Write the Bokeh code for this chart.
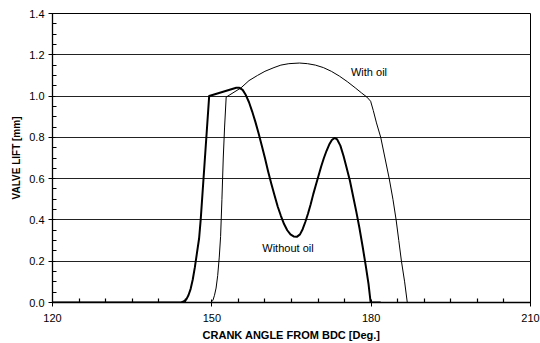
from bokeh.plotting import figure
from bokeh.models import FixedTicker, Range1d, Label, CustomJSTickFormatter
from bokeh.embed import file_html
from bokeh.resources import INLINE

# Crank angle [deg] and valve lift [mm] -- Without oil (thick curve)
angle_without_oil = [120, 144.2, 144.7, 145.2, 145.6, 146.0, 146.4, 146.8, 147.2, 147.6,
                     147.9, 148.3, 148.7, 149.1, 149.5, 154.6, 155.2, 155.8, 156.4, 157.0,
                     157.6, 158.2, 158.8, 159.4, 160.0, 160.6, 161.2, 161.8, 162.4, 163.0,
                     163.6, 164.2, 164.8, 165.4, 166.0, 166.6, 167.1, 167.6, 168.1, 168.6,
                     169.1, 169.6, 170.1, 170.6, 171.1, 171.6, 172.1, 172.6, 173.1, 173.6,
                     174.2, 174.8, 175.4, 176.0, 176.6, 177.2, 177.8, 178.4, 179.0, 179.5,
                     179.9, 181.8]
lift_without_oil = [0, 0, 0.005, 0.015, 0.035, 0.065, 0.11, 0.17, 0.24, 0.31,
                    0.4, 0.55, 0.7, 0.85, 1.0, 1.04, 1.04, 1.03, 1.005, 0.97,
                    0.925, 0.875, 0.82, 0.76, 0.70, 0.635, 0.575, 0.52, 0.465, 0.42,
                    0.38, 0.35, 0.33, 0.32, 0.318, 0.33, 0.355, 0.39, 0.43, 0.475,
                    0.525, 0.57, 0.615, 0.66, 0.70, 0.735, 0.765, 0.787, 0.797, 0.79,
                    0.76, 0.71, 0.65, 0.59, 0.515, 0.44, 0.36, 0.27, 0.175, 0.09,
                    0, 0]

# Crank angle [deg] and valve lift [mm] -- With oil (thin curve)
angle_with_oil = [120, 149.8, 150.2, 150.5, 150.8, 151.1, 151.4, 151.65, 151.9, 152.15,
                  152.4, 152.7, 155.5, 157.0, 158.6, 160.0, 161.7, 163.0, 164.5, 166.5,
                  168.0, 169.5, 171.0, 172.5, 174.0, 175.5, 177.0, 178.2, 179.2, 179.9,
                  180.4, 181.0, 181.8, 182.6, 183.4, 184.1, 184.7, 185.2, 185.7, 186.3,
                  186.8]
lift_with_oil = [0, 0, 0.01, 0.035, 0.07, 0.13, 0.22, 0.32, 0.5, 0.7,
                 0.85, 0.995, 1.04, 1.075, 1.1, 1.12, 1.138, 1.15, 1.157, 1.16,
                 1.157, 1.15, 1.138, 1.12, 1.097, 1.07, 1.04, 1.015, 0.995, 0.975,
                 0.93, 0.87, 0.8, 0.7, 0.6, 0.5, 0.4, 0.3, 0.2, 0.1,
                 0]

x_ticks = [120, 150, 180, 210]
x_minor = [125, 130, 135, 140, 145, 155, 160, 165, 170, 175, 185, 190, 195, 200, 205]
y_ticks = [0.0, 0.2, 0.4, 0.6, 0.8, 1.0, 1.2, 1.4]
y_minor = [0.05, 0.1, 0.15, 0.25, 0.3, 0.35, 0.45, 0.5, 0.55, 0.65, 0.7, 0.75,
           0.85, 0.9, 0.95, 1.05, 1.1, 1.15, 1.25, 1.3, 1.35]

FONT = "Liberation Sans"

p = figure(width=540, height=343, output_backend="svg", toolbar_location=None,
           x_range=Range1d(120, 210), y_range=Range1d(0, 1.4),
           min_border_left=52, min_border_right=10, min_border_top=13, min_border_bottom=40)
p.background_fill_color = "white"
p.border_fill_color = "white"
p.outline_line_color = "black"
p.outline_line_width = 1

p.xgrid.visible = False
p.ygrid.ticker = FixedTicker(ticks=y_ticks)
p.ygrid.grid_line_color = "#222222"
p.ygrid.grid_line_width = 1

for ax in (p.xaxis[0], p.yaxis[0]):
    ax.axis_line_color = "black"
    ax.axis_line_width = 1.3
    ax.major_tick_line_color = "black"
    ax.minor_tick_line_color = "black"
    ax.minor_tick_line_width = 1.2
    ax.major_tick_in = 3
    ax.major_tick_out = 4
    ax.minor_tick_in = 4
    ax.minor_tick_out = 0
    ax.major_label_text_font = FONT
    ax.major_label_text_font_size = "11px"
    ax.major_label_text_color = "black"
    ax.axis_label_text_font = FONT
    ax.axis_label_text_font_style = "bold"
    ax.axis_label_text_color = "black"

p.xaxis.ticker = FixedTicker(ticks=x_ticks, minor_ticks=x_minor)
p.yaxis.ticker = FixedTicker(ticks=y_ticks, minor_ticks=y_minor)
p.yaxis.formatter = CustomJSTickFormatter(code="return tick.toFixed(1);")

p.xaxis.axis_label = "CRANK ANGLE FROM BDC [Deg.]"
p.yaxis.axis_label = "VALVE LIFT [mm]"
p.xaxis.axis_label_text_font_size = "11px"
p.yaxis.axis_label_text_font_size = "10px"
p.xaxis.major_label_standoff = 7
p.yaxis.major_label_standoff = 4
p.xaxis.axis_label_standoff = 4
p.yaxis.axis_label_standoff = 4

p.line(angle_with_oil, lift_with_oil, line_color="black", line_width=1, line_join="round")
p.line(angle_without_oil, lift_without_oil, line_color="black", line_width=2, line_join="round")

p.add_layout(Label(x=176.2, y=1.117, text="With oil", text_font=FONT, text_font_size="11px",
                   text_baseline="middle", text_align="left", text_color="black"))
p.add_layout(Label(x=159.5, y=0.264, text="Without oil", text_font=FONT, text_font_size="11px",
                   text_baseline="middle", text_align="left", text_color="black"))

open("out.html", "w").write(file_html(p, INLINE))
